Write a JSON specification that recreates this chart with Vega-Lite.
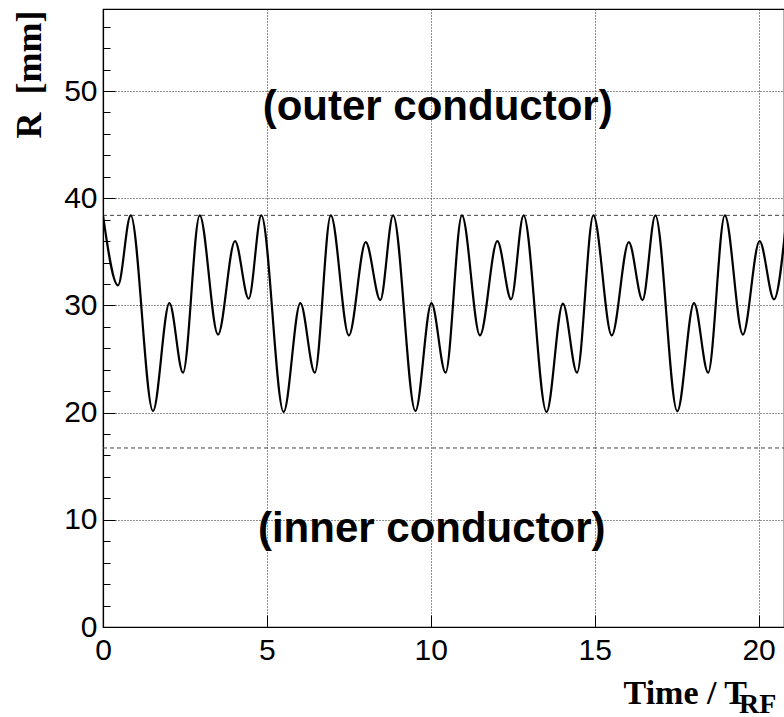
{
  "$schema": "https://vega.github.io/schema/vega-lite/v6.json",
  "width": 681,
  "height": 618,
  "autosize": {"type": "none"},
  "padding": {"left": 103, "top": 9, "right": 0, "bottom": 90},
  "background": "white",
  "config": {
    "view": {"stroke": "black", "strokeWidth": 1.2},
    "axis": {
      "domainColor": "black",
      "domainWidth": 1.2,
      "tickColor": "black",
      "tickWidth": 1,
      "labelFont": "Liberation Sans",
      "labelFontSize": 30,
      "labelColor": "black",
      "labelFlush": false,
      "labelOverlap": false,
      "labelBound": false,
      "gridColor": "#222",
      "gridDash": [1, 2],
      "gridWidth": 1,
      "titleColor": "black"
    }
  },
  "encoding": {
    "x": {
      "field": "t", "type": "quantitative",
      "scale": {"domain": [0, 20.775], "nice": false, "zero": false},
      "axis": {
        "values": [0, 5, 10, 15, 20],
        "tickSize": -12,
        "labelPadding": 20,
        "labelOverlap": false,
        "labelFlush": false,
        "grid": true,
        "gridOpacity": {"condition": {"test": "datum.value > 0", "value": 1}, "value": 0},
        "title": "Time / T",
        "titleFont": "Liberation Serif",
        "titleFontWeight": "bold",
        "titleFontSize": 34,
        "titleAnchor": "end",
        "titleAlign": "right",
        "titleBaseline": "alphabetic",
        "titleX": 643.5,
        "titleY": 76.5
      }
    },
    "y": {
      "field": "R", "type": "quantitative",
      "scale": {"domain": [0, 57.65], "nice": false, "zero": false},
      "axis": {
        "values": [0, 2, 4, 6, 8, 10, 12, 14, 16, 18, 20, 22, 24, 26, 28, 30, 32, 34, 36, 38, 40, 42, 44, 46, 48, 50, 52, 54, 56],
        "tickSize": {"condition": {"test": "datum.value % 10 === 0", "value": -12}, "value": -7},
        "labelPadding": 18,
        "labelOverlap": false,
        "labelFlush": false,
        "labelExpr": "datum.value % 10 === 0 ? datum.label : ''",
        "grid": true,
        "gridOpacity": {"condition": {"test": "datum.value % 10 === 0 && datum.value > 0", "value": 1}, "value": 0},
        "title": "R\u00a0\u00a0[mm]",
        "titleFont": "Liberation Serif",
        "titleFontWeight": "bold",
        "titleFontSize": 36,
        "titleAngle": 270,
        "titleAlign": "right",
        "titleBaseline": "alphabetic",
        "titleX": -62.3,
        "titleY": 1
      }
    }
  },
  "layer": [
    {
      "data": {"values": [
        {"t": 0, "R": 38.4, "g": "outer"}, {"t": 20.775, "R": 38.4, "g": "outer"},
        {"t": 0, "R": 16.7, "g": "inner"}, {"t": 20.775, "R": 16.7, "g": "inner"}
      ]},
      "mark": {"type": "line", "color": "#444", "strokeDash": [4, 3], "strokeWidth": 1},
      "encoding": {"detail": {"field": "g"}}
    },
    {
      "data": {
        "values": [
          {"t": 0, "R": 38.4}, {"t": 0.458, "R": 31.87}, {"t": 0.845, "R": 38.4},
          {"t": 1.525, "R": 20.15}, {"t": 2.026, "R": 30.22}, {"t": 2.44, "R": 23.73},
          {"t": 2.95, "R": 38.4}, {"t": 3.508, "R": 27.28}, {"t": 4.027, "R": 36.0},
          {"t": 4.445, "R": 30.63}, {"t": 4.83, "R": 38.4}, {"t": 5.51, "R": 20.06},
          {"t": 6.02, "R": 30.22}, {"t": 6.46, "R": 23.73}, {"t": 6.95, "R": 38.4},
          {"t": 7.5, "R": 27.2}, {"t": 8.015, "R": 35.9}, {"t": 8.46, "R": 30.5},
          {"t": 8.85, "R": 38.4}, {"t": 9.53, "R": 20.15}, {"t": 10.02, "R": 30.22},
          {"t": 10.45, "R": 23.73}, {"t": 10.95, "R": 38.4}, {"t": 11.5, "R": 27.2},
          {"t": 12.03, "R": 36.0}, {"t": 12.45, "R": 30.57}, {"t": 12.83, "R": 38.4},
          {"t": 13.53, "R": 20.06}, {"t": 14.03, "R": 30.17}, {"t": 14.46, "R": 23.73},
          {"t": 14.96, "R": 38.4}, {"t": 15.52, "R": 27.2}, {"t": 16.04, "R": 35.9},
          {"t": 16.46, "R": 30.5}, {"t": 16.85, "R": 38.4}, {"t": 17.52, "R": 20.12},
          {"t": 18.03, "R": 30.22}, {"t": 18.46, "R": 23.73}, {"t": 18.97, "R": 38.4},
          {"t": 19.52, "R": 27.28}, {"t": 20.03, "R": 36.0}, {"t": 20.47, "R": 30.57},
          {"t": 20.86, "R": 38.4}
        ]
      },
      "mark": {"type": "line", "interpolate": "monotone", "color": "black", "strokeWidth": 2.2, "clip": true}
    },
    {
      "data": {
        "values": [
          {"t": 10.21, "R": 47.27, "label": "(outer conductor)"},
          {"t": 10.03, "R": 7.93, "label": "(inner conductor)"}
        ]
      },
      "mark": {"type": "text", "font": "Liberation Sans", "fontWeight": "bold", "fontSize": 42, "align": "center", "baseline": "alphabetic", "color": "black"},
      "encoding": {"text": {"field": "label"}}
    },
    {
      "data": {"values": [{"t": 19.4, "R": -8.05, "label": "RF"}]},
      "mark": {"type": "text", "font": "Liberation Serif", "fontWeight": "bold", "fontSize": 28, "align": "left", "baseline": "alphabetic", "color": "black"},
      "encoding": {"text": {"field": "label"}}
    }
  ]
}
